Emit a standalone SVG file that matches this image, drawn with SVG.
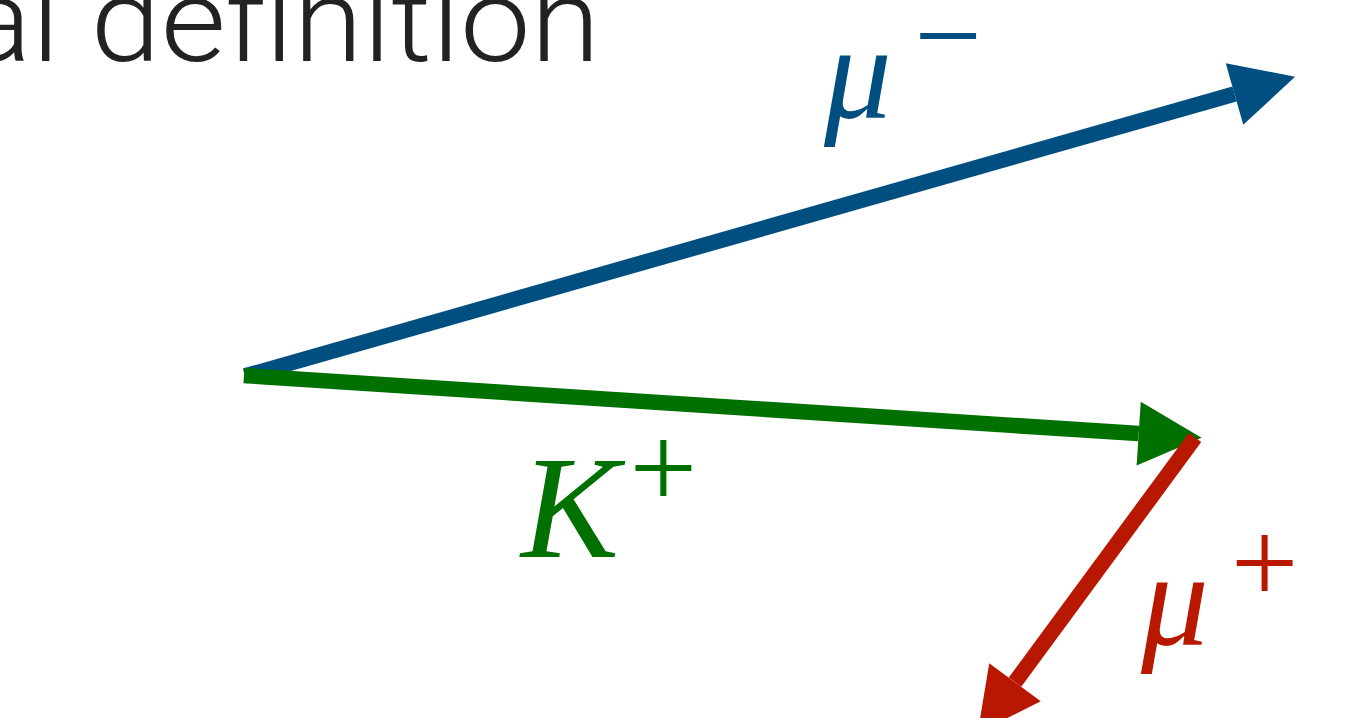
<svg xmlns="http://www.w3.org/2000/svg" width="1349" height="718" viewBox="0 0 1349 718">
  <style>
    .title { font-family: Roboto, "Liberation Sans", sans-serif; font-weight: 300; font-size: 117px; fill: #222222; }
    .sym { font-family: "Liberation Serif", serif; font-style: italic; }
    .sup { font-family: "Liberation Serif", serif; font-size: 120px; text-anchor: middle; }
    .blue { fill: #004f80; }
    .green { fill: #007000; }
    .red { fill: #b81800; }
    .conn { fill: none; stroke-width: 15.5; stroke-linecap: butt; }
  </style>
  <defs>
    <marker id="headBlue" markerUnits="userSpaceOnUse" markerWidth="64" markerHeight="64" refX="0" refY="32" orient="auto" overflow="visible">
      <path d="M0,0 L63,32 L0,64 Z" fill="#004f80"/>
    </marker>
    <marker id="headGreen" markerUnits="userSpaceOnUse" markerWidth="64" markerHeight="64" refX="0" refY="32" orient="auto" overflow="visible">
      <path d="M0,0 L63,32 L0,64 Z" fill="#007000"/>
    </marker>
    <marker id="headRed" markerUnits="userSpaceOnUse" markerWidth="64" markerHeight="64" refX="0" refY="32" orient="auto" overflow="visible">
      <path d="M0,0 L63,32 L0,64 Z" fill="#b81800"/>
    </marker>
  </defs>
  <rect width="1349" height="718" fill="#ffffff"/>
  <text class="title" x="-36" y="61" textLength="636" lengthAdjust="spacingAndGlyphs">al definition</text>
  <g id="connectors">
    <line id="mu-minus-track" class="conn" x1="245" y1="376" x2="1234.5" y2="94" stroke="#004f80" marker-end="url(#headBlue)"/>
    <line id="kaon-track" class="conn" x1="244" y1="375.5" x2="1138.7" y2="433.6" stroke="#007000" marker-end="url(#headGreen)"/>
    <line id="mu-plus-track" class="conn" x1="1195" y1="437.5" x2="1015" y2="682.2" stroke="#b81800" marker-end="url(#headRed)"/>
  </g>
  <g id="label-mu-minus">
    <text class="sym blue" x="824" y="118" font-size="135">μ</text>
    <text class="sup blue" x="948" y="76">−</text>
  </g>
  <g id="label-kaon">
    <text class="sym green" x="521" y="557" font-size="147">K</text>
    <text class="sup green" x="663.4" y="508">+</text>
  </g>
  <g id="label-mu-plus">
    <text class="sym red" x="1141" y="645" font-size="135">μ</text>
    <text class="sup red" x="1264.5" y="603">+</text>
  </g>
</svg>
